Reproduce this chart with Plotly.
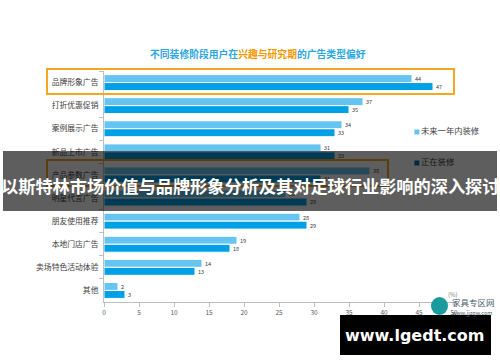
import plotly.graph_objects as go

categories = ["品牌形象广告", "打折优惠促销", "案例展示广告", "新品上市广告", "产品参数广告",
              "明星代言广告", "朋友使用推荐", "本地门店广告", "卖场特色活动体验", "其他"]
future_year = [44, 37, 34, 31, 38, 26, 28, 19, 14, 2]
renovating = [47, 35, 33, 33, 31, 29, 29, 18, 13, 3]
series_names = ["未来一年内装修", "正在装修"]
x_ticks = [0, 5, 10, 15, 20, 25, 30, 35, 40, 45, 50]

LIGHT = "#66C5F0"
DARK = "#00A0E6"
FONT = "Noto Sans CJK SC"

# plot area in pixels: x 104..454 (0..50), y 71..302
L, R, T, B = 104, 454, 71, 302
W, H = R - L, B - T


def px(x):
    return (x - L) / W


def py(y):
    return (B - y) / H


fig = go.Figure()
for name, vals, col in [(series_names[0], future_year, LIGHT), (series_names[1], renovating, DARK)]:
    fig.add_trace(go.Bar(
        y=categories, x=vals, name=name, orientation="h",
        marker=dict(color=col, line=dict(color="white", width=1)),
        text=[str(v) for v in vals], textposition="outside",
        textfont=dict(size=7, color="#404040", family=FONT),
        cliponaxis=False, showlegend=False,
    ))

# manual legend (drawn beneath the overlay band)
leg_y = [py(132), py(163)]
fig.add_trace(go.Scatter(
    x=[44.7, 44.7], y=leg_y, xaxis="x", yaxis="y2", mode="markers+text",
    marker=dict(symbol="square", size=5, color=[LIGHT, "#0070A8"]),
    text=series_names, textposition="middle right",
    textfont=dict(size=8.3, color="#404040", family=FONT),
    cliponaxis=False, showlegend=False, hoverinfo="skip",
))

fig.update_layout(
    width=500, height=362,
    margin=dict(l=L, r=500 - R, t=T, b=362 - B, pad=0, autoexpand=False),
    paper_bgcolor="white", plot_bgcolor="white",
    barmode="group", bargap=0.31, bargroupgap=0,
    font=dict(family=FONT, color="#404040"),
    showlegend=False,
    xaxis=dict(range=[0, 50], tickvals=x_ticks, ticktext=[str(t) for t in x_ticks],
               automargin=False,
               showgrid=False, zeroline=False, showline=True, linecolor="#BFBFBF",
               linewidth=1, ticks="outside", ticklen=4, tickcolor="#BFBFBF",
               tickfont=dict(size=6.5, color="#595959", family=FONT)),
    yaxis=dict(autorange="reversed", showgrid=False, showline=True, linecolor="#BFBFBF",
               automargin=False,
               linewidth=1, ticks="outside", ticklen=4, tickcolor="#BFBFBF",
               tickson="boundaries", ticklabelstandoff=3,
               tickfont=dict(size=7.8, color="#404040", family=FONT)),
    yaxis2=dict(range=[0, 1], overlaying="y", visible=False, fixedrange=True, automargin=False),
)

shapes = [
    # orange highlight boxes
    dict(type="rect", xref="paper", yref="paper", x0=px(47), x1=px(454), y0=py(69), y1=py(94),
         line=dict(color="#F5A623", width=2), layer="above"),
    dict(type="rect", xref="paper", yref="paper", x0=px(47), x1=px(388), y0=py(160), y1=py(186),
         line=dict(color="#F5A623", width=2), layer="above"),
    # dark overlay band
    dict(type="rect", xref="paper", yref="paper", x0=px(3), x1=px(497), y0=py(151), y1=py(211),
         fillcolor="rgba(0,0,0,0.63)", line=dict(width=0), layer="above"),
    # black watermark box
    dict(type="rect", xref="paper", yref="paper", x0=px(340), x1=px(491), y0=py(315), y1=py(355),
         fillcolor="black", line=dict(width=0), layer="above"),
    # logo circle
    dict(type="circle", xref="paper", yref="paper", x0=px(431), x1=px(448), y0=py(297), y1=py(315),
         fillcolor="#1A9C9C", line=dict(width=0), layer="above"),
]
fig.update_layout(shapes=shapes)

ann = [
    dict(x=px(258), y=py(54), xref="paper", yref="paper", showarrow=False,
         text="<b>不同装修阶段用户在<span style='color:#F39800'>兴趣与研究期</span>的广告类型偏好</b>",
         font=dict(size=9.8, color="#2AA7E0", family=FONT), xanchor="center", yanchor="middle"),
    dict(x=px(250), y=py(185), xref="paper", yref="paper", showarrow=False,
         text="<b>以斯特林市场价值与品牌形象分析及其对足球行业影响的深入探讨</b>",
         font=dict(size=17.2, color="white", family=FONT), xanchor="center", yanchor="middle"),
    dict(x=px(415), y=py(335), xref="paper", yref="paper", showarrow=False,
         text="<b>www.lgedt.com</b>",
         font=dict(size=16, color="white", family="DejaVu Sans"), xanchor="center", yanchor="middle"),
    dict(x=px(446), y=py(294), xref="paper", yref="paper", showarrow=False,
         text="(%)", font=dict(size=6, color="#808080", family=FONT),
         xanchor="left", yanchor="middle"),
    dict(x=px(450), y=py(302), xref="paper", yref="paper", showarrow=False,
         text="家具专区网", font=dict(size=8.5, color="#4A5A6A", family=FONT),
         xanchor="left", yanchor="middle"),
    dict(x=px(450), y=py(313), xref="paper", yref="paper", showarrow=False,
         text="www.jjzqw.com", font=dict(size=5.5, color="#4A5A6A", family=FONT),
         xanchor="left", yanchor="middle"),
]
fig.update_layout(annotations=ann)

fig.write_html(
    "out.html",
    config={"displayModeBar": False},
    post_script="document.body.style.margin='0';document.body.style.overflow='hidden';",
)
